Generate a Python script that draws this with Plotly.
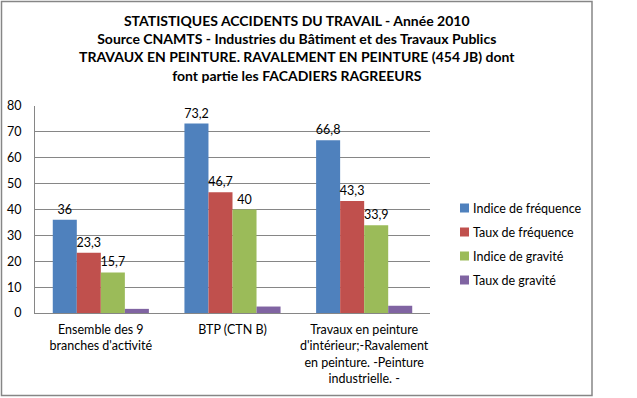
import plotly.graph_objects as go

categories = ["Ensemble des 9<br>branches d'activité",
              "BTP (CTN B)",
              "Travaux en peinture<br>d'intérieur;-Ravalement<br>en peinture. -Peinture<br>industrielle. -"]
series_names = ["Indice de fréquence", "Taux de fréquence", "Indice de gravité", "Taux de gravité"]
indice_frequence = [36, 73.2, 66.8]
taux_frequence = [23.3, 46.7, 43.3]
indice_gravite = [15.7, 40, 33.9]
taux_gravite = [1.6, 2.5, 2.8]
show_labels = [True, True, True, False]
colors = ["#4F81BD", "#C0504D", "#9BBB59", "#8064A2"]
y_ticks = [0, 10, 20, 30, 40, 50, 60, 70, 80]

title_lines = ["STATISTIQUES ACCIDENTS DU TRAVAIL - Année 2010",
               "Source CNAMTS - Industries du Bâtiment et des Travaux Publics",
               "TRAVAUX EN PEINTURE. RAVALEMENT EN PEINTURE (454 JB) dont",
               "font partie les FACADIERS RAGREEURS"]

FONT = "Lato"
W, H = 637, 398
L, R, T, B = 35, 430, 106, 313

def fmt(v):
    return ("%g" % v).replace(".", ",")

fig = go.Figure()
all_series = [indice_frequence, taux_frequence, indice_gravite, taux_gravite]
for i, (name, vals) in enumerate(zip(series_names, all_series)):
    fig.add_trace(go.Bar(
        x=categories, y=vals, name=name,
        marker=dict(color=colors[i], line=dict(width=0)),
        text=[fmt(v) for v in vals] if show_labels[i] else None,
        textposition="outside", cliponaxis=False, constraintext="none",
        textfont=dict(family=FONT, size=12.5, color="#000000"),
        showlegend=False, hoverinfo="skip",
    ))

def px_x(p):
    return (p - L) / (R - L)

def px_y(p):
    return (B - p) / (B - T)

fig.update_layout(
    width=W, height=H,
    margin=dict(l=L, r=W - R, t=T, b=H - B, pad=0, autoexpand=False),
    paper_bgcolor="white", plot_bgcolor="white",
    barmode="group", bargap=0.27, bargroupgap=0,
    uniformtext=dict(mode=False),
    font=dict(family=FONT, size=12, color="#000000"),
    showlegend=False,
    xaxis=dict(showline=True, linecolor="#868686", linewidth=1, ticks="",
               ticklabelstandoff=5,
               tickfont=dict(family=FONT, size=12.5, color="#000000"),
               showgrid=False, automargin=False),
    yaxis=dict(range=[0, 80], tickvals=y_ticks, showgrid=True, gridcolor="#868686",
               gridwidth=1, showline=True, linecolor="#868686", linewidth=1,
               ticks="", ticklabelstandoff=10, zeroline=False, automargin=False,
               tickfont=dict(family=FONT, size=12.5, color="#000000")),
)

# title
fig.add_annotation(
    xref="paper", yref="paper", x=px_x(296.5), y=px_y(10), xanchor="center", yanchor="top",
    text="<br>".join("<b>%s</b>" % t for t in title_lines), showarrow=False,
    align="center", font=dict(family=FONT, size=14, color="#000000"),
)

# legend (drawn manually)
leg_x, leg_y0, leg_dy, sq = 460, 208, 24, 9
for i, name in enumerate(series_names):
    cy = leg_y0 + i * leg_dy
    fig.add_shape(type="rect", xref="paper", yref="paper",
                  x0=px_x(leg_x), x1=px_x(leg_x + sq),
                  y0=px_y(cy + sq / 2), y1=px_y(cy - sq / 2),
                  fillcolor=colors[i], line=dict(width=0))
    fig.add_annotation(xref="paper", yref="paper", x=px_x(leg_x + sq + 2), y=px_y(cy),
                       xanchor="left", yanchor="middle", text=name, showarrow=False,
                       font=dict(family=FONT, size=12.5, color="#000000"))

# chart frame
fig.add_shape(type="rect", xref="paper", yref="paper",
              x0=px_x(1.5), x1=px_x(592), y0=px_y(395.5), y1=px_y(1.5),
              line=dict(color="#868686", width=1.5), fillcolor="rgba(0,0,0,0)", layer="below")

fig.write_html("out.html", config={"displayModeBar": False},
               post_script="document.body.style.margin='0px';document.body.style.overflow='hidden';")
